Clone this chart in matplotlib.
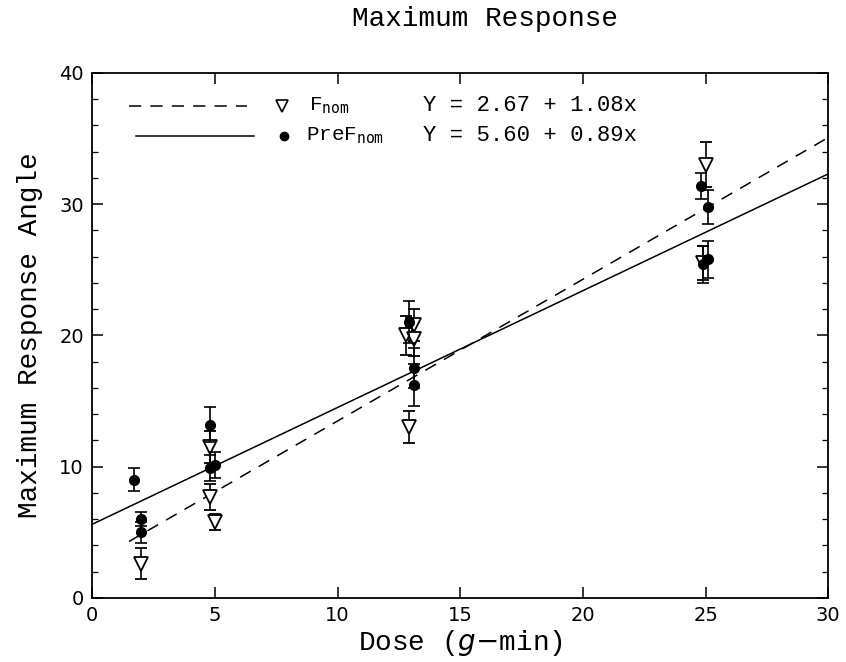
import numpy as np
import matplotlib
matplotlib.use("Agg")
from matplotlib import pyplot as plt
from matplotlib.ticker import MultipleLocator

# F_nom (open triangles)
f_dose = [2.0, 4.8, 4.8, 5.0, 12.8, 13.1, 13.1, 12.9, 25.0, 24.9]
f_angle = [2.6, 11.5, 7.7, 5.8, 20.0, 20.8, 19.7, 13.0, 33.0, 25.5]
f_err = [1.2, 1.2, 1.0, 0.6, 1.5, 1.2, 1.3, 1.2, 1.7, 1.3]

# PreF_nom (filled circles)
p_dose = [1.7, 2.0, 2.0, 4.8, 4.8, 5.0, 12.9, 13.1, 13.1, 24.8, 25.1, 24.9, 25.1]
p_angle = [9.0, 6.0, 5.0, 13.2, 9.9, 10.1, 21.0, 17.5, 16.2, 31.4, 29.8, 25.4, 25.8]
p_err = [0.9, 0.5, 0.8, 1.3, 1.0, 1.0, 1.6, 1.5, 1.6, 1.0, 1.3, 1.4, 1.4]

# regression lines from the legend
f_fit = (2.67, 1.08)
p_fit = (5.60, 0.89)
f_range = [1.5, 30]
p_range = [0, 30]

mono = "Liberation Mono"


def main():
    fig = plt.figure(figsize=(8.46, 6.62), dpi=100)
    ax = fig.add_axes([0.109, 0.097, 0.870, 0.793])

    xf = np.array(f_range)
    ax.plot(xf, f_fit[0] + f_fit[1] * xf, color="black", lw=1.1,
            dashes=(8, 6))
    xp = np.array(p_range)
    ax.plot(xp, p_fit[0] + p_fit[1] * xp, color="black", lw=1.1)

    ax.errorbar(f_dose, f_angle, yerr=f_err, fmt="v", ms=10, mfc="white",
                mec="black", mew=1.3, ecolor="black", elinewidth=1.2,
                capsize=4, capthick=1.2, zorder=3)
    ax.errorbar(p_dose, p_angle, yerr=p_err, fmt="o", ms=7, mfc="black",
                mec="black", ecolor="black", elinewidth=1.2,
                capsize=4, capthick=1.2, zorder=4)

    # legend drawn by hand in axes fraction
    tr = ax.transAxes
    ax.plot([0.05, 0.21], [0.937, 0.937], transform=tr, color="black",
            lw=1.1, dashes=(8, 6))
    ax.plot([0.258], [0.937], transform=tr, marker="v", ms=9, mfc="white",
            mec="black", mew=1.2)
    ax.text(0.295, 0.937, r"F$_{\mathtt{nom}}$", transform=tr, family=mono,
            fontsize=15, va="center")
    ax.text(0.45, 0.937, "Y = 2.67 + 1.08x", transform=tr, family=mono,
            fontsize=16, va="center")
    ax.plot([0.06, 0.22], [0.88, 0.88], transform=tr, color="black", lw=1.1)
    ax.plot([0.26], [0.88], transform=tr, marker="o", ms=6, color="black")
    ax.text(0.29, 0.88, r"PreF$_{\mathtt{nom}}$", transform=tr, family=mono,
            fontsize=15, va="center")
    ax.text(0.45, 0.88, "Y = 5.60 + 0.89x", transform=tr, family=mono,
            fontsize=16, va="center")

    ax.set_xlim(0, 30)
    ax.set_ylim(0, 40)
    ax.xaxis.set_major_locator(MultipleLocator(5))
    ax.yaxis.set_major_locator(MultipleLocator(10))
    ax.yaxis.set_minor_locator(MultipleLocator(2))
    ax.tick_params(which="both", direction="in", top=True, right=True)
    ax.tick_params(which="major", length=8, width=1.1, labelsize=14, pad=6)
    ax.tick_params(which="minor", length=4, width=0.9)
    for s in ax.spines.values():
        s.set_linewidth(1.3)

    ax.set_xlabel(r"Dose ($g$$-$min)", family=mono, fontsize=20, labelpad=2)
    ax.set_ylabel("Maximum Response Angle", family=mono, fontsize=20,
                  labelpad=12)
    fig.text(0.573, 0.972, "Maximum Response", family=mono, fontsize=20,
             ha="center", va="center")

    fig.savefig("out.png", dpi=100)
    plt.close(fig)


if __name__ == "__main__":
    main()
